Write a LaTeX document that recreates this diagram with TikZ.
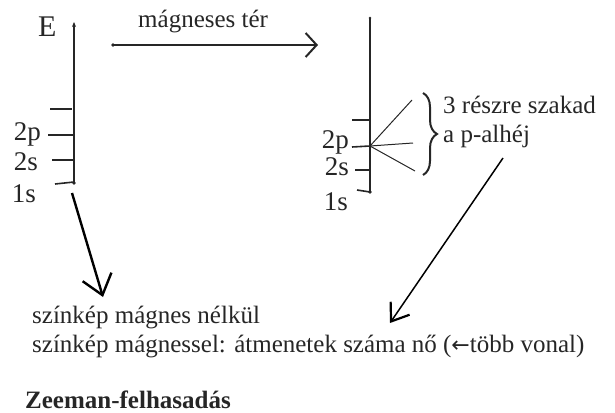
\documentclass[tikz,border=0pt]{standalone}
\usepackage{fontspec}
\setmainfont{Liberation Serif}
\newfontfamily\arrowfont{DejaVu Sans}
\usetikzlibrary{arrows.meta,decorations.pathreplacing}
\begin{document}
\begin{tikzpicture}[x=1pt,y=-1pt,
  ink/.style={black!85},
  axis/.style={ink,line width=2pt},
  tickline/.style={ink,line width=1.6pt},
  splitline/.style={ink,line width=1pt},
  txt/.style={ink,inner sep=0pt,anchor=base west,font=\fontsize{25}{28}\selectfont},
  lbl/.style={ink,inner sep=0pt,anchor=base east,font=\fontsize{27}{28}\selectfont},
  bigarrow/.style={black,line width=2.4pt,-{Straight Barb[length=19pt,width=30pt,line width=2.4pt]}},
  thinarrow/.style={black,line width=1.5pt,-{Straight Barb[length=16pt,width=23pt,line width=2.2pt]}}]
\useasboundingbox (0,0) rectangle (615,412);
% left energy axis
\coordinate (L0) at (74,183);
\coordinate (Ltop) at (74,22);
\draw[axis,-{Stealth[length=5pt,width=4pt]}] (L0) -- (Ltop);
\fill[ink] (L0) circle (1.8);
\node[ink,inner sep=0pt,anchor=base west,font=\fontsize{30}{30}\selectfont] (E) at (38,37) {E};
\draw[tickline] (50,109) -- (72,109);
\draw[tickline] (48,135) -- (74,135);
\draw[tickline] (52,160) -- (74,160);
\draw[tickline] (55,184) -- (74,182);
\node[lbl] (l2p) at (41,140) {2p};
\node[lbl] (l2s) at (38,170) {2s};
\node[lbl] (l1s) at (36,202) {1s};
% magnetic field arrow
\coordinate (M0) at (113,45);
\coordinate (M1) at (318,45);
\draw[ink,line width=1.6pt,-{Straight Barb[length=11pt,width=24pt,line width=2pt]}] (M0) -- (M1);
\fill[ink] (M0) circle (1.8);
\node[txt] (mag) at (138,28) {mágneses tér};
% right energy axis
\coordinate (R0) at (370,192);
\coordinate (Rtop) at (370,18);
\draw[axis] (R0) -- (Rtop);
\fill[ink] (R0) circle (1.8);
\fill[ink] (Rtop) circle (1.3);
\draw[tickline] (352,120) -- (370,120);
\draw[tickline] (352,147) -- (370,146);
\draw[tickline] (355,170) -- (370,170);
\draw[tickline] (357,190) -- (370,192);
\node[lbl] (r2p) at (349,148) {2p};
\node[lbl] (r2s) at (349,175) {2s};
\node[lbl] (r1s) at (348,210) {1s};
\coordinate (P) at (370,146);
\coordinate (Pa) at (412,100);
\coordinate (Pb) at (413,143);
\coordinate (Pc) at (415,171);
\draw[splitline] (P) -- (Pa);
\draw[splitline] (P) -- (Pb);
\draw[splitline] (P) -- (Pc);
\draw[ink,line width=2pt,decorate,decoration={brace,amplitude=14pt}] (423,93) -- (423,175);
\node[txt] (t1) at (443,113) {3 részre szakad};
\node[txt] (t2) at (443,142) {a p-alhéj};
% bottom texts
\node[txt] (s1) at (32,323) {színkép mágnes nélkül};
\node[txt] (s2) at (32,352) {színkép mágnessel: átmenetek száma nő ({\arrowfont\fontsize{22}{24}\selectfont ←}több vonal)};
\node[txt,font=\fontsize{25}{28}\selectfont\bfseries] (z) at (25,408) {Zeeman-felhasadás};
% arrows to texts
\coordinate (A0) at (72,193);
\coordinate (A1) at (103,297);
\draw[bigarrow] (A0) -- (A1);
\coordinate (B0) at (503,158);
\coordinate (B1) at (390,323);
\draw[thinarrow] (B0) -- (B1);
\end{tikzpicture}
\end{document}
